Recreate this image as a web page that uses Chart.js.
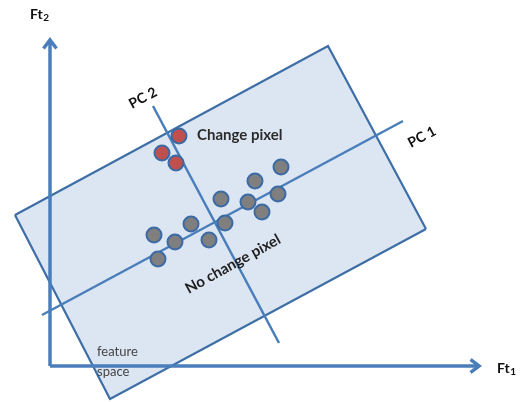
<!DOCTYPE html>
<html>
<head>
<meta charset="utf-8">
<script src="https://cdn.jsdelivr.net/npm/chart.js@4.4.1/dist/chart.umd.min.js"></script>
<style>
html, body { margin: 0; padding: 0; background: #fff; }
#wrap { width: 521px; height: 402px; }
</style>
</head>
<body>
<div id="wrap"><canvas id="c" width="521" height="402"></canvas></div>
<script>
// feature space coordinates, origin where Ft1 meets Ft2
const ft1Axis = [{x: 0, y: 0}, {x: 427, y: 0}];
const ft2Axis = [{x: 0, y: 0}, {x: 0, y: 324}];
const spaceUpper = [{x: -35, y: 151}, {x: 278, y: 320}, {x: 376, y: 137}];
const spaceLower = [{x: -35, y: 151}, {x: 60, y: -33}, {x: 376, y: 137}];
const pc1 = [{x: -8, y: 51}, {x: 353, y: 245}];
const pc2 = [{x: 103, y: 260}, {x: 229, y: 23}];
const changePixels = [{x: 129, y: 230}, {x: 112, y: 213}, {x: 126, y: 203}];
const noChangePixels = [
  {x: 104, y: 131}, {x: 125, y: 124}, {x: 108, y: 107}, {x: 141, y: 142},
  {x: 159, y: 126}, {x: 171, y: 167}, {x: 175, y: 143}, {x: 198, y: 164},
  {x: 205, y: 185}, {x: 212, y: 154}, {x: 231, y: 199}, {x: 228, y: 172}
];
const labelTexts = ['Ft', 'Ft', 'PC 2', 'PC 1', 'Change pixel', 'No change pixel', 'feature', 'space'];
const labelSubs = ['2', '1', '', '', '', '', '', ''];
const labelAt = [
  {x: -20, y: 352}, {x: 447, y: -2}, {x: 93, y: 268}, {x: 372, y: 229},
  {x: 147, y: 231}, {x: 183, y: 102}, {x: 47, y: 14}, {x: 47, y: -6}
];

const blue = '#4a7ebb';
const edge = '#3e6ea6';

// little chevron used as the arrow end of the Ft axes
function arrowHead() {
  const c = document.createElement('canvas');
  c.width = 20; c.height = 20;
  const g = c.getContext('2d');
  g.strokeStyle = blue;
  g.fillStyle = blue;
  g.lineWidth = 3.5;
  g.lineJoin = 'miter';
  g.beginPath();
  g.moveTo(3.5, 16.5);
  g.lineTo(10, 8);
  g.lineTo(16.5, 16.5);
  g.stroke();
  g.beginPath();
  g.moveTo(10, 8);
  g.lineTo(13, 13);
  g.lineTo(10, 12);
  g.lineTo(7, 13);
  g.closePath();
  g.fill();
  return c;
}
const arrow = arrowHead();

const labelStyle = [
  {font: 'bold 14px Lato', color: '#111', rot: 0, align: 'left'},
  {font: 'bold 14px Lato', color: '#111', rot: 0, align: 'left'},
  {font: 'bold 14px Lato', color: '#111', rot: -28, align: 'center'},
  {font: 'bold 14px Lato', color: '#111', rot: -28, align: 'center'},
  {font: 'bold 15px Lato', color: '#2b2b2b', rot: 0, align: 'left'},
  {font: 'bold 15px Lato', color: '#1e1e1e', rot: -29, align: 'center'},
  {font: '13px Lato', color: '#444', rot: 0, align: 'left'},
  {font: '13px Lato', color: '#444', rot: 0, align: 'left'}
];

const textPlugin = {
  id: 'diagramText',
  afterDatasetsDraw: (chart) => {
    const {ctx} = chart;
    const xs = chart.scales.x, ys = chart.scales.y;
    labelTexts.forEach((t, i) => {
      const st = labelStyle[i];
      const px = xs.getPixelForValue(labelAt[i].x);
      const py = ys.getPixelForValue(labelAt[i].y);
      ctx.save();
      ctx.translate(px, py);
      ctx.rotate(st.rot * Math.PI / 180);
      ctx.font = st.font;
      ctx.fillStyle = st.color;
      ctx.textAlign = st.align;
      ctx.textBaseline = 'middle';
      ctx.fillText(t, 0, 0);
      if (labelSubs[i]) {
        const w = ctx.measureText(t).width;
        ctx.font = 'bold 10px Lato';
        ctx.textAlign = 'left';
        ctx.fillText(labelSubs[i], w + 0.5, 4);
      }
      ctx.restore();
    });
  }
};

const lineSet = (data, width, order) => ({
  data, showLine: true, borderColor: blue, borderWidth: width,
  pointRadius: 0, fill: false, order
});
const axisSet = (data, rot) => ({
  data, showLine: true, borderColor: blue, borderWidth: 3.5, fill: false, order: 2,
  pointStyle: arrow, pointRotation: rot, pointRadius: [0, 10], borderCapStyle: 'butt'
});

new Chart(document.getElementById('c'), {
  type: 'line',
  data: {
    datasets: [
      {data: noChangePixels, showLine: false, pointRadius: 7.5, pointBackgroundColor: '#7f7f7f',
       pointBorderColor: '#3b6aa4', pointBorderWidth: 2, order: 0},
      {data: changePixels, showLine: false, pointRadius: 7.5, pointBackgroundColor: '#c0504d',
       pointBorderColor: '#3b6aa4', pointBorderWidth: 2, order: 0},
      lineSet(pc1, 2.5, 1),
      lineSet(pc2, 2.5, 1),
      axisSet(ft1Axis, 90),
      axisSet(ft2Axis, 0),
      {data: spaceUpper, showLine: true, borderColor: edge, borderWidth: 2.2, pointRadius: 0,
       backgroundColor: '#dce6f2', fill: '+1', order: 3, tension: 0},
      {data: spaceLower, showLine: true, borderColor: edge, borderWidth: 2.2, pointRadius: 0,
       fill: false, order: 3, tension: 0}
    ]
  },
  options: {
    responsive: false,
    devicePixelRatio: 1,
    animation: false,
    events: [],
    layout: {padding: 0, autoPadding: false},
    plugins: {
      legend: {display: false},
      tooltip: {enabled: false},
      filler: {drawTime: 'beforeDatasetsDraw'}
    },
    scales: {
      x: {type: 'linear', min: -50, max: 471, display: false},
      y: {type: 'linear', min: -36, max: 366, display: false}
    }
  },
  plugins: [textPlugin]
});
</script>
</body>
</html>
